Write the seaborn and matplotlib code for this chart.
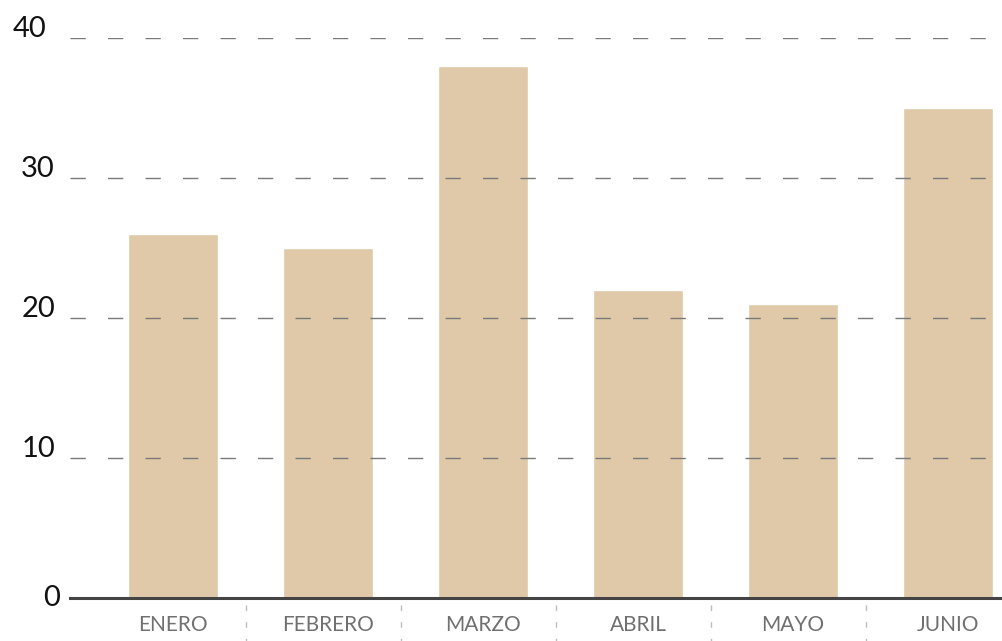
import matplotlib
matplotlib.use("Agg")
import matplotlib.pyplot as plt
import pandas as pd
import seaborn as sns

months = ["ENERO", "FEBRERO", "MARZO", "ABRIL", "MAYO", "JUNIO"]
values = [26, 25, 38, 22, 21, 35]
y_ticks = [0, 10, 20, 30, 40]

df = pd.DataFrame({"mes": months, "valor": values})

sns.set_theme(style="white")
plt.rcParams["font.family"] = ["Lato", "DejaVu Sans"]

fig = plt.figure(figsize=(10.02, 6.41), dpi=100)
ax = fig.add_axes([70 / 1002, 43 / 641, 932 / 1002, 560 / 641])

sns.barplot(data=df, x="mes", y="valor", color="#dfc9a8", width=0.58,
            saturation=1, ax=ax)

ax.set_xlim(-0.665, 5.348)
ax.set_ylim(0, 40)
ax.set_xlabel("")
ax.set_ylabel("")

# dashed gridlines drawn over the bars
ax.set_yticks(y_ticks)
ax.set_axisbelow(False)
ax.yaxis.grid(True, color="#7a7a7a", linewidth=1.0, linestyle=(0, (11, 16)))
ax.xaxis.grid(False)

for side in ["top", "right", "left"]:
    ax.spines[side].set_visible(False)
ax.spines["bottom"].set_color("#444444")
ax.spines["bottom"].set_linewidth(2.2)
ax.spines["bottom"].set_zorder(4)

# y labels placed by hand: baseline on the gridline, zero centred on the axis
ax.tick_params(axis="y", length=0, labelleft=False)
ytrans = ax.get_yaxis_transform()
for v in y_ticks:
    if v == 0:
        ax.annotate(str(v), xy=(0, v), xycoords=ytrans, xytext=(-10, 0),
                    textcoords="offset pixels", ha="right", va="center",
                    fontsize=21, color="#111111", annotation_clip=False)
    else:
        dx = -24 if v == 40 else -15
        ax.annotate(str(v), xy=(0, v), xycoords=ytrans, xytext=(dx, 1),
                    textcoords="offset pixels", ha="right", va="baseline",
                    fontsize=21, color="#111111", annotation_clip=False)

ax.tick_params(axis="x", length=0, pad=12, labelsize=15, labelcolor="#707070")

# short dashed separators between the month labels
xtrans = ax.get_xaxis_transform()
for k in range(len(months) - 1):
    ax.plot([k + 0.47, k + 0.47], [-0.012, -0.09], transform=xtrans,
            color="#bdbdbd", linewidth=1.0, linestyle=(0, (4, 8)),
            clip_on=False)

fig.savefig("out.png", dpi=100)
plt.close(fig)
